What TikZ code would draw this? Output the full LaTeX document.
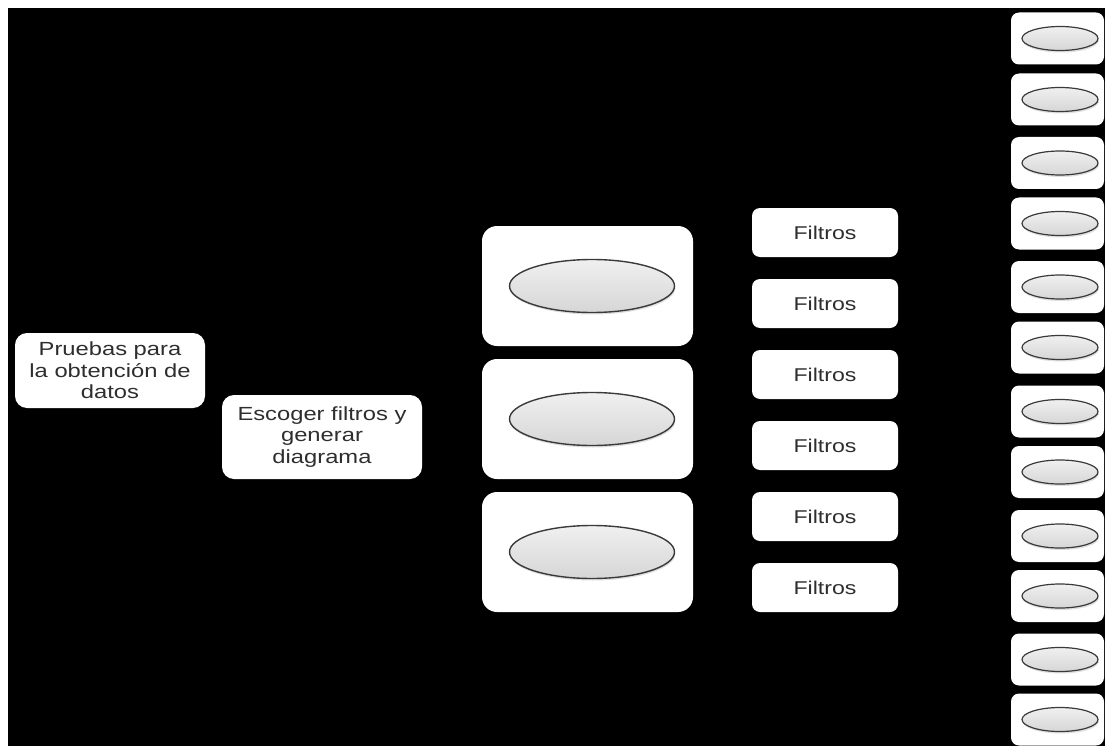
\documentclass[tikz,border=0pt]{standalone}
\usepackage{fontspec}
\setmainfont{Liberation Sans}
\newfontfamily\widesans[FakeStretch=1.25]{Liberation Sans}
\usetikzlibrary{shapes.geometric,shadows}
\definecolor{txt}{HTML}{2E2E2E}
\definecolor{rim}{HTML}{3A3A3A}
\tikzset{
  wbox/.style={fill=white,draw=none,inner sep=0pt,align=center,text=txt},
  lbox/.style={wbox,rounded corners=12pt,font=\widesans\fontsize{19}{21.5}\selectfont},
  bigbox/.style={wbox,rounded corners=15pt,minimum width=211pt,minimum height=120pt},
  fbox/.style={wbox,rounded corners=8pt,minimum width=146pt,minimum height=49pt,font=\widesans\fontsize{18.5}{21}\selectfont},
  sbox/.style={wbox,rounded corners=8pt,minimum width=93pt,minimum height=52pt},
  oval/.style={ellipse,draw=rim,line width=1.4pt,inner sep=0pt,top color=gray!12,bottom color=gray!32,
     drop shadow={opacity=0.25,shadow xshift=0.8pt,shadow yshift=-2pt}},
  bigoval/.style={oval,minimum width=165pt,minimum height=53pt},
  smoval/.style={oval,line width=1.2pt,minimum width=76pt,minimum height=24pt}
}
\begin{document}
\begin{tikzpicture}[x=1pt,y=-1pt]
\useasboundingbox (0,0) rectangle (1105,746);
\fill[white] (0,0) rectangle (1105,746);
\fill[black] (8,8) rectangle (1105,746);
% left boxes
\node[lbox,minimum width=190pt,minimum height=75pt] (pruebas) at (110,370.5) {Pruebas para\\la obtención de\\datos};
\node[lbox,minimum width=200pt,minimum height=84pt] (escoger) at (322,437) {Escoger filtros y\\generar\\diagrama};
% big boxes with ovals
\foreach \i/\y in {1/286,2/419,3/552}{
  \node[bigbox] (big\i) at (587.5,\y) {};
  \node[bigoval] (bigov\i) at (592,\y) {};
}
% Filtros
\foreach \i/\y in {1/232.5,2/303.5,3/374.5,4/445.5,5/516.5,6/587.5}{
  \node[fbox] (filtro\i) at (825,\y) {Filtros};
}
% right column
\foreach \i/\y in {1/38.5,2/99.5,3/163,4/223.5,5/287,6/347.5,7/411.5,8/472,9/536,10/596,11/659.5,12/719.5}{
  \node[sbox] (sm\i) at (1057.5,\y) {};
  \node[smoval] (smov\i) at (1060,\y) {};
}
\end{tikzpicture}
\end{document}
